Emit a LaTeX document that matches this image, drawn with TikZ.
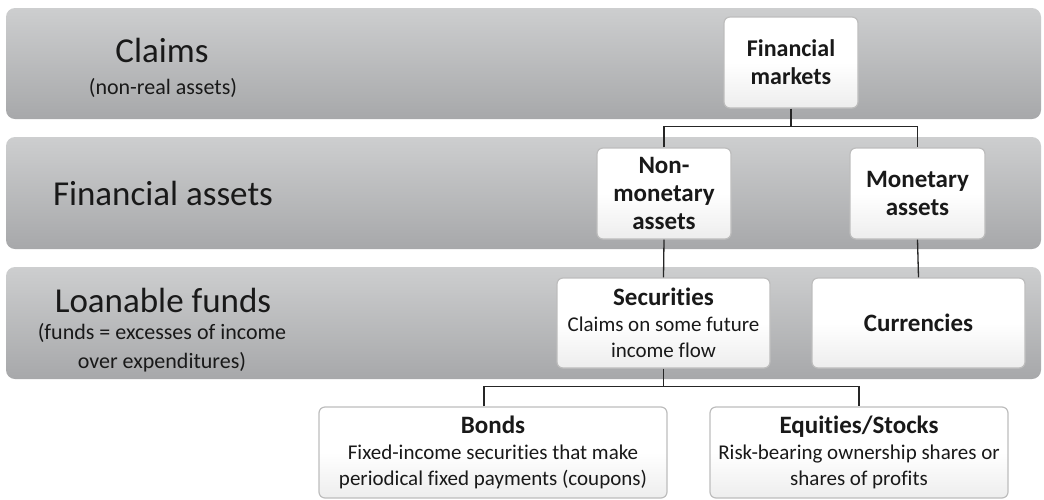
\documentclass[tikz,border=0pt]{standalone}
\usepackage{fontspec}
\setmainfont[Ligatures=NoCommon]{Carlito}
\usetikzlibrary{calc}
\definecolor{bandtop}{HTML}{CDCECF}
\definecolor{bandbot}{HTML}{A7A8AA}
\definecolor{boxline}{HTML}{BDBDBD}
\definecolor{boxbot}{HTML}{EDEDED}
\tikzset{
  band/.style={rounded corners=9pt, top color=bandtop, bottom color=bandbot, draw=none},
  bandtitle/.style={font=\fontsize{35}{40}\selectfont, text=black!90, inner sep=0pt},
  bandsub/.style={font=\fontsize{22}{29}\selectfont, text=black!90, inner sep=0pt, align=center},
  chartbox/.style={rounded corners=6pt, draw=boxline, line width=1.2pt, top color=white, bottom color=boxbot, middle color=white, align=center, inner sep=2pt, text=black!90},
  conn/.style={draw=black!85, line width=1.3pt}
}
\begin{document}
\begin{tikzpicture}[x=1pt,y=-1pt]
\useasboundingbox (0,0) rectangle (1044,499);
% bands
\path[band] (6,8) rectangle (1041,119);
\path[band] (6,137) rectangle (1041,249);
\path[band] (6,267) rectangle (1041,379);
% band labels
\node[bandtitle] (t1) at (162,50) {Claims};
\node[bandsub] (s1) at (163,88) {(non-real assets)};
\node[bandtitle] (t2) at (163,193) {Financial assets};
\node[bandtitle] (t3) at (163,300) {Loanable funds};
\node[bandsub] (s3) at (162,348) {(funds = excesses of income\\over expenditures)};
% boxes
\node[chartbox, minimum width=134pt, minimum height=91pt, font=\fontsize{24}{28}\selectfont\bfseries] (fm) at (791,62.5) {Financial\\markets};
\node[chartbox, minimum width=134pt, minimum height=91pt, font=\fontsize{25}{28}\selectfont\bfseries] (nm) at (664,193.5) {Non-\\monetary\\assets};
\node[chartbox, minimum width=135pt, minimum height=91pt, font=\fontsize{25}{28}\selectfont\bfseries] (mon) at (917.5,193.5) {Monetary\\assets};
\node[chartbox, minimum width=213pt, minimum height=90pt, font=\fontsize{21}{26}\selectfont] (sec) at (663.5,323) {{\fontsize{25}{28}\selectfont\bfseries Securities}\\Claims on some future\\income flow};
\node[chartbox, minimum width=213pt, minimum height=90pt, font=\fontsize{25}{28}\selectfont\bfseries] (cur) at (918.5,323) {Currencies};
\node[chartbox, minimum width=348pt, minimum height=91pt, font=\fontsize{21}{26}\selectfont] (bonds) at (493,452.5) {{\fontsize{25}{28}\selectfont\bfseries Bonds}\\Fixed-income securities that make\\periodical fixed payments (coupons)};
\node[chartbox, minimum width=298pt, minimum height=91pt, font=\fontsize{21}{26}\selectfont] (eq) at (859,452.5) {{\fontsize{25}{28}\selectfont\bfseries Equities/Stocks}\\Risk-bearing ownership shares or\\shares of profits};
% connectors
\coordinate (j1) at ($(fm.south)+(0,18)$);
\draw[conn] (fm.south) -- (j1);
\draw[conn] (nm.north) |- (j1) -| (mon.north);
\draw[conn] (nm.south) -- (sec.north);
\draw[conn] (mon.south) -- (cur.north);
\coordinate (j2) at ($(sec.south)+(0,18)$);
\draw[conn] (sec.south) -- (j2);
\draw[conn] ([xshift=-9pt]bonds.north) |- (j2) -| (eq.north);
\end{tikzpicture}
\end{document}
